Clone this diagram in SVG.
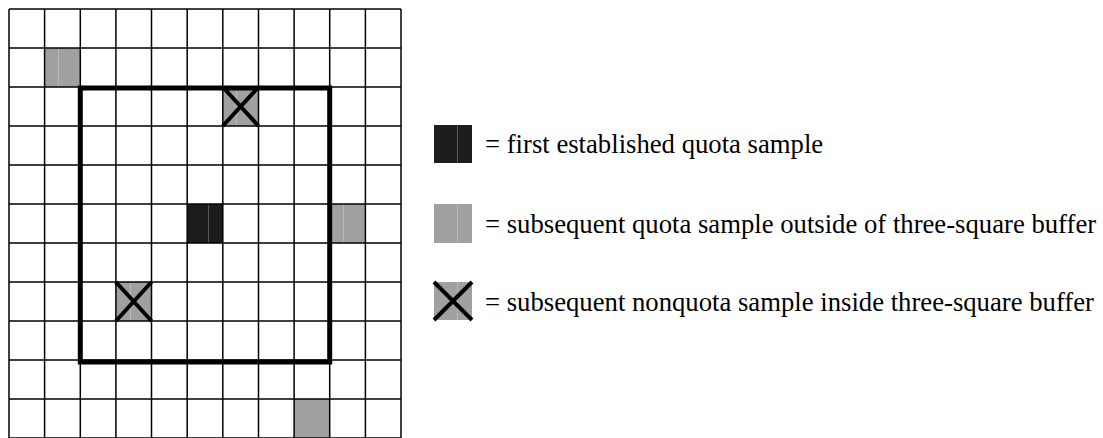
<svg xmlns="http://www.w3.org/2000/svg" width="1103" height="438" viewBox="0 0 1103 438">
<style>
.grid{stroke:#000;stroke-width:1.5;fill:none}
.gray{fill:#a0a0a0}
.black{fill:#1c1c1c}
.seam{stroke:#b8b8b8;stroke-width:1}
.seamd{stroke:#5a5a5a;stroke-width:1}
.x{stroke:#000;stroke-width:4;fill:none}
.buf{stroke:#000;stroke-width:5;fill:none}
.lbl{font-family:"Liberation Serif","Times New Roman",serif;font-size:26.7px;fill:#000}
</style>
<rect width="1103" height="438" fill="#fff"/>
<g id="cells">
<rect class="gray" x="44.6" y="48" width="35.7" height="39"/><line class="seam" x1="58.5" y1="48" x2="58.5" y2="87"/>
<rect class="gray" x="222.8" y="87" width="35.7" height="39"/><line class="seam" x1="236.5" y1="87" x2="236.5" y2="126"/>
<rect class="black" x="187.2" y="204" width="35.6" height="39"/><line class="seamd" x1="208.5" y1="204" x2="208.5" y2="243"/>
<rect class="gray" x="329.7" y="204" width="35.7" height="39"/><line class="seam" x1="343.5" y1="204" x2="343.5" y2="243"/>
<rect class="gray" x="115.9" y="282" width="35.6" height="39"/><line class="seam" x1="130.5" y1="282" x2="130.5" y2="321"/>
<rect class="gray" x="294.1" y="399" width="35.6" height="39"/>
</g>
<g id="grid" class="grid">
<line x1="9" y1="9" x2="9" y2="438"/>
<line x1="44.6" y1="9" x2="44.6" y2="438"/>
<line x1="80.3" y1="9" x2="80.3" y2="438"/>
<line x1="115.9" y1="9" x2="115.9" y2="438"/>
<line x1="151.5" y1="9" x2="151.5" y2="438"/>
<line x1="187.2" y1="9" x2="187.2" y2="438"/>
<line x1="222.8" y1="9" x2="222.8" y2="438"/>
<line x1="258.5" y1="9" x2="258.5" y2="438"/>
<line x1="294.1" y1="9" x2="294.1" y2="438"/>
<line x1="329.7" y1="9" x2="329.7" y2="438"/>
<line x1="365.4" y1="9" x2="365.4" y2="438"/>
<line x1="401" y1="9" x2="401" y2="438"/>
<line x1="9" y1="9" x2="401" y2="9"/>
<line x1="9" y1="48" x2="401" y2="48"/>
<line x1="9" y1="87" x2="401" y2="87"/>
<line x1="9" y1="126" x2="401" y2="126"/>
<line x1="9" y1="165" x2="401" y2="165"/>
<line x1="9" y1="204" x2="401" y2="204"/>
<line x1="9" y1="243" x2="401" y2="243"/>
<line x1="9" y1="282" x2="401" y2="282"/>
<line x1="9" y1="321" x2="401" y2="321"/>
<line x1="9" y1="360" x2="401" y2="360"/>
<line x1="9" y1="399" x2="401" y2="399"/>
<line x1="9" y1="438" x2="401" y2="438"/>
</g>
<g id="crosses" class="x">
<path d="M222.8 87L258.5 126M258.5 87L222.8 126"/>
<path d="M115.9 282L151.5 321M151.5 282L115.9 321"/>
</g>
<g id="buffer">
<rect class="buf" x="80.3" y="88" width="249.4" height="274"/>
</g>
<g id="legend-first">
<rect class="black" x="434" y="125" width="38" height="38"/><line class="seamd" x1="457.5" y1="125" x2="457.5" y2="163"/>
<text class="lbl" x="485" y="153">= first established quota sample</text>
</g>
<g id="legend-quota">
<rect class="gray" x="434" y="204" width="38" height="39"/><line class="seam" x1="457.5" y1="204" x2="457.5" y2="243"/>
<text class="lbl" x="485" y="233">= subsequent quota sample outside of three-square buffer</text>
</g>
<g id="legend-nonquota">
<rect class="gray" x="434" y="282" width="38" height="38"/><line class="seam" x1="457.5" y1="282" x2="457.5" y2="320"/>
<path class="x" d="M434 282L472 320M472 282L434 320"/>
<text class="lbl" x="485" y="311">= subsequent nonquota sample inside three-square buffer</text>
</g>
</svg>
